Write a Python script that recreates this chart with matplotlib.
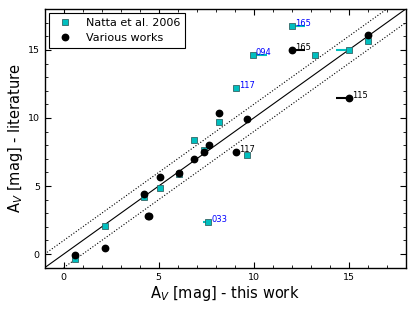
import matplotlib
matplotlib.use("Agg")
import matplotlib.pyplot as plt
import numpy as np

# Natta et al. 2006
natta_x = [0.58, 2.19, 4.25, 5.07, 6.05, 6.84, 7.36, 7.61, 8.15, 9.06, 9.64, 9.94, 12.04, 13.23, 15.01, 16.03]
natta_y = [-0.35, 2.03, 4.16, 4.87, 5.85, 8.35, 7.67, 2.37, 9.71, 12.2, 7.3, 14.65, 16.79, 14.65, 15.0, 15.68]
natta_xerr_lo = [0, 0, 0, 0, 0, 0, 0, 0.27, 0, 0, 0, 0, 0, 0, 0.68, 0]
natta_xerr_hi = [0, 0, 0, 0, 0, 0, 0, 0, 0, 0, 0, 0.78, 0.68, 0, 0, 0]
natta_labels = ["", "", "", "", "", "", "", "033", "", "117", "", "094", "165", "", "", ""]

# Various works
var_x = [0.58, 2.19, 4.25, 4.44, 4.50, 5.07, 6.05, 6.88, 7.36, 7.66, 8.15, 9.06, 9.64, 12.04, 15.01, 16.03]
var_y = [-0.05, 0.44, 4.38, 2.77, 2.77, 5.66, 5.96, 6.99, 7.5, 7.99, 10.37, 7.47, 9.95, 15.02, 11.49, 16.13]
var_xerr_lo = [0, 0, 0, 0, 0, 0, 0, 0, 0, 0, 0, 0, 0, 0, 0.68, 0]
var_xerr_hi = [0, 0, 0, 0, 0, 0, 0, 0, 0, 0, 0, 0, 0, 0.68, 0, 0]
var_labels = ["", "", "", "", "", "", "", "", "", "", "", "117", "", "165", "115", ""]

x_ticks = [0, 5, 10, 15]
y_ticks = [0, 5, 10, 15]
offset = 1.0

fig = plt.figure(figsize=(4.15, 3.12), dpi=100)
ax = fig.add_axes([0.1077, 0.142, 0.870, 0.829])

ax.axline((0, 0), slope=1, color="k", lw=0.8, zorder=1)
ax.axline((0, offset), slope=1, color="k", lw=0.8, ls=":", zorder=1)
ax.axline((0, -offset), slope=1, color="k", lw=0.8, ls=":", zorder=1)

ax.errorbar(natta_x, natta_y, xerr=[natta_xerr_lo, natta_xerr_hi], fmt="none",
            ecolor="c", elinewidth=1.5, capsize=0, zorder=2)
ax.plot(natta_x, natta_y, ls="none", marker="s", ms=4.6, mfc="c", mec="#336666",
        mew=0.6, label="Natta et al. 2006", zorder=3)
ax.errorbar(var_x, var_y, xerr=[var_xerr_lo, var_xerr_hi], fmt="none",
            ecolor="k", elinewidth=1.5, capsize=0, zorder=4)
ax.plot(var_x, var_y, ls="none", marker="o", ms=4.6, mfc="k", mec="k",
        label="Various works", zorder=5)

for x, y, t in zip(natta_x, natta_y, natta_labels):
    if t:
        ax.text(x + 0.15, y, t, color="b", fontsize=6, va="baseline", ha="left", zorder=6)
for x, y, t in zip(var_x, var_y, var_labels):
    if t:
        ax.text(x + 0.15, y, t, color="k", fontsize=6, va="baseline", ha="left", zorder=6)

ax.set_xlim(-1, 18)
ax.set_ylim(-1, 18)
ax.set_xticks(x_ticks)
ax.set_yticks(y_ticks)
ax.set_xticks(np.arange(-1, 19, 1), minor=True)
ax.set_yticks(np.arange(-1, 19, 1), minor=True)
ax.tick_params(which="both", direction="in", top=True, right=True, labelsize=6.8)
ax.tick_params(which="major", length=4, width=0.8)
ax.tick_params(which="minor", length=2, width=0.6)
for s in ax.spines.values():
    s.set_linewidth(1.0)

ax.set_xlabel(r"A$_V$ [mag] - this work", fontsize=10.5, labelpad=2)
ax.set_ylabel(r"A$_V$ [mag] - literature", fontsize=10.5, labelpad=2)

leg = ax.legend(loc="upper left", numpoints=1, fontsize=8, fancybox=False,
                framealpha=1, edgecolor="k", borderaxespad=0.35, handletextpad=0.9,
                borderpad=0.45, labelspacing=0.45)
leg.get_frame().set_linewidth(0.8)

fig.savefig("out.png", dpi=100)
